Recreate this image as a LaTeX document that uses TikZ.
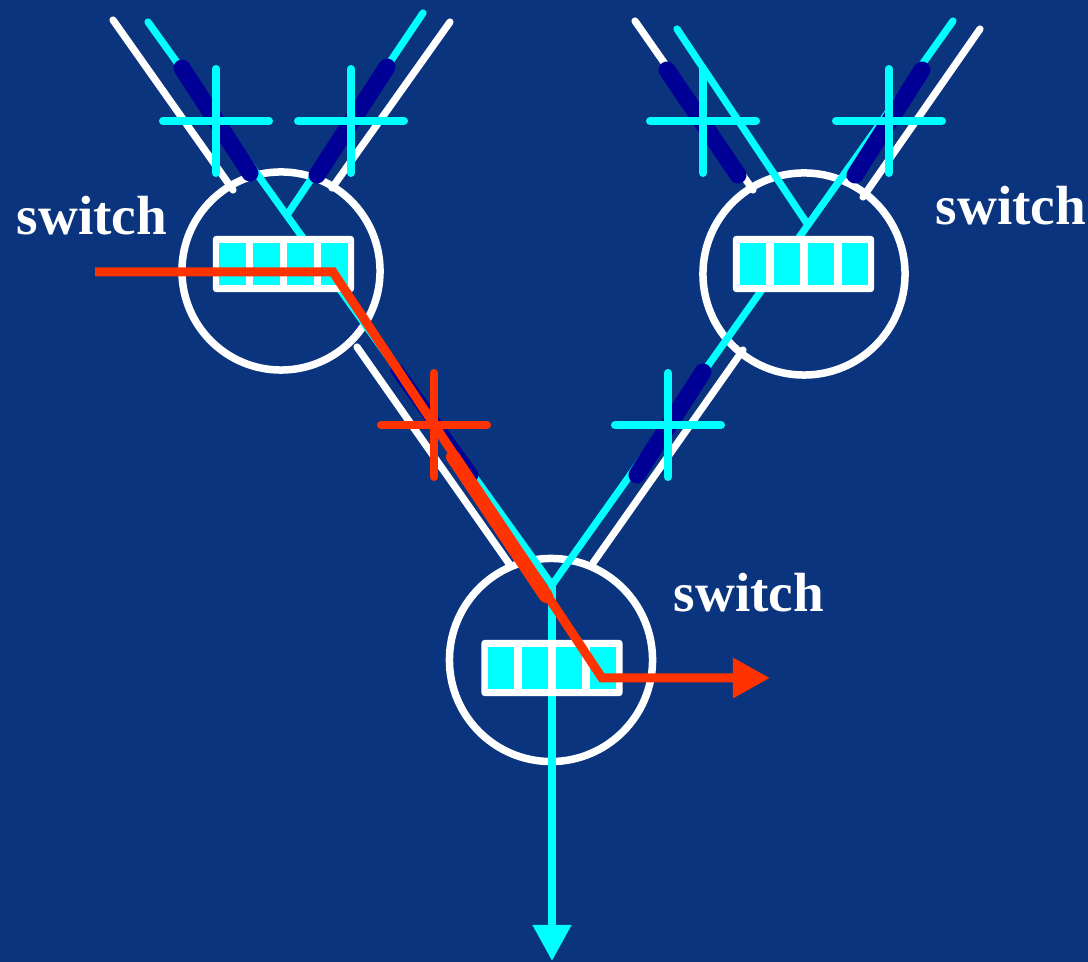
\documentclass[tikz,border=0pt]{standalone}
\usepackage{fontspec}
\setmainfont{Liberation Serif}
\usetikzlibrary{arrows.meta}
\definecolor{bg}{RGB}{11,52,126}
\definecolor{flow}{RGB}{0,255,255}
\definecolor{pkt}{RGB}{0,0,150}
\definecolor{hot}{RGB}{255,51,0}

% a queue: white frame holding four cyan buffer cells
\newcommand\queuebox[2]{%
  \node[qbox] (#1) at (#2) {};
  \foreach \dx [count=\i] in {-51,-17,17,51}
    \node[qcell] (#1c\i) at ([xshift=\dx*0.01cm]#1.center) {};
}
% a "blocked" mark: a plus sign centred on a coordinate
\newcommand\blockmark[2]{%
  \draw[#1] ([xshift=-0.53cm]#2) -- ([xshift=0.53cm]#2)
            ([yshift=-0.52cm]#2) -- ([yshift=0.52cm]#2);
}

\begin{document}
\begin{tikzpicture}[x=0.01cm,y=-0.01cm,
  sw/.style={circle,draw=white,line width=0.075cm,inner sep=0pt,minimum size=#1},
  qbox/.style={fill=white,rounded corners=0.03cm,minimum width=1.41cm,minimum height=0.56cm,inner sep=0pt},
  qcell/.style={fill=flow,minimum width=0.26cm,minimum height=0.42cm,inner sep=0pt},
  link/.style={white,line width=0.072cm,line cap=round},
  flowline/.style={flow,line width=0.072cm,line cap=round},
  packet/.style={pkt,line width=0.17cm,line cap=round},
  crossbar/.style={line width=0.08cm,line cap=round},
  hotpath/.style={hot,line width=0.09cm},
  lbl/.style={white,inner sep=0pt,font=\fontsize{15.7}{18}\selectfont\bfseries}]

\fill[bg] (0,0) rectangle (1088,962);
\useasboundingbox (0,0) rectangle (1088,962);

% switches
\node[sw=1.98cm] (swL) at (281,271) {};
\node[sw=2.02cm] (swR) at (804,274) {};
\node[sw=2.03cm] (swB) at (551,660) {};

% physical links (white)
\coordinate (tlWa) at (113,20);  \coordinate (tlWb) at (233,190);
\coordinate (tlWc) at (450,22);  \coordinate (tlWd) at (332,188);
\coordinate (trWa) at (635,21);  \coordinate (trWb) at (753,190);
\coordinate (trWc) at (980,29);  \coordinate (trWd) at (863,197);
\coordinate (bWa) at (357,347);  \coordinate (bWb) at (510,565);
\coordinate (bWc) at (743,350);  \coordinate (bWd) at (593,563);
\draw[link] (tlWa) -- (tlWb);
\draw[link] (tlWc) -- (tlWd);
\draw[link] (trWa) -- (trWb);
\draw[link] (trWc) -- (trWd);
\draw[link] (bWa) -- (bWb);
\draw[link] (bWc) -- (bWd);

% flows (cyan)
\coordinate (fA) at (148,22);
\coordinate (fC) at (953,21);
\coordinate (fD) at (423,13);
\coordinate (fE) at (677,29);
\coordinate (jL) at (287,215);
\coordinate (jR) at (808,225);
\coordinate (jB) at (552,585);
\coordinate (out) at (552,961);
\draw[flowline] (fA) -- (jB);
\draw[flowline] (fC) -- (jB);
\draw[flowline] (fD) -- (jL);
\draw[flowline] (fE) -- (jR);
\draw[flow,line width=0.075cm,-{Triangle[length=0.36cm,width=0.37cm]}] (jB) -- (out);

% packets in transit (dark blue)
\coordinate (p1a) at (182,68);  \coordinate (p1b) at (250,173);
\coordinate (p2a) at (387,67);  \coordinate (p2b) at (317,175);
\coordinate (p3a) at (667,70);  \coordinate (p3b) at (738,175);
\coordinate (p4a) at (922,70);  \coordinate (p4b) at (855,175);
\coordinate (p5a) at (397,370); \coordinate (p5b) at (472,475);
\coordinate (p6a) at (703,372); \coordinate (p6b) at (637,475);
\draw[packet] (p1a) -- (p1b);
\draw[packet] (p2a) -- (p2b);
\draw[packet] (p3a) -- (p3b);
\draw[packet] (p4a) -- (p4b);
\draw[packet,line width=0.13cm] (p5a) -- (p5b);
\draw[packet] (p6a) -- (p6b);

% output queues
\queuebox{qL}{283.5,264}
\queuebox{qR}{803.5,264}
\queuebox{qB}{552,668}

% blocked links
\coordinate (x1) at (216,121);
\coordinate (x2) at (351,121);
\coordinate (x3) at (703,121);
\coordinate (x4) at (889,121);
\coordinate (x5) at (668,425);
\coordinate (x6) at (434,425);
\blockmark{crossbar,flow}{x1}
\blockmark{crossbar,flow}{x2}
\blockmark{crossbar,flow}{x3}
\blockmark{crossbar,flow}{x4}
\blockmark{crossbar,flow}{x5}

% the highlighted path (red)
\coordinate (r0) at (95,272);
\coordinate (r1) at (333,272);
\coordinate (r2) at (602,678);
\coordinate (r3) at (770,678);
\draw[hotpath,-{Triangle[length=0.37cm,width=0.38cm]}] (r0) -- (r1) -- (r2) -- (r3);
\coordinate (rpa) at (453,457);
\coordinate (rpb) at (546,596);
\draw[hot,line width=0.14cm,line cap=round] (rpa) -- (rpb);
\blockmark{crossbar,hot}{x6}

% labels
\node[lbl,anchor=base west] (labL) at (16,235) {switch};
\node[lbl,anchor=base west] (labR) at (935,225) {switch};
\node[lbl,anchor=base west] (labB) at (673,612) {switch};
\end{tikzpicture}
\end{document}
